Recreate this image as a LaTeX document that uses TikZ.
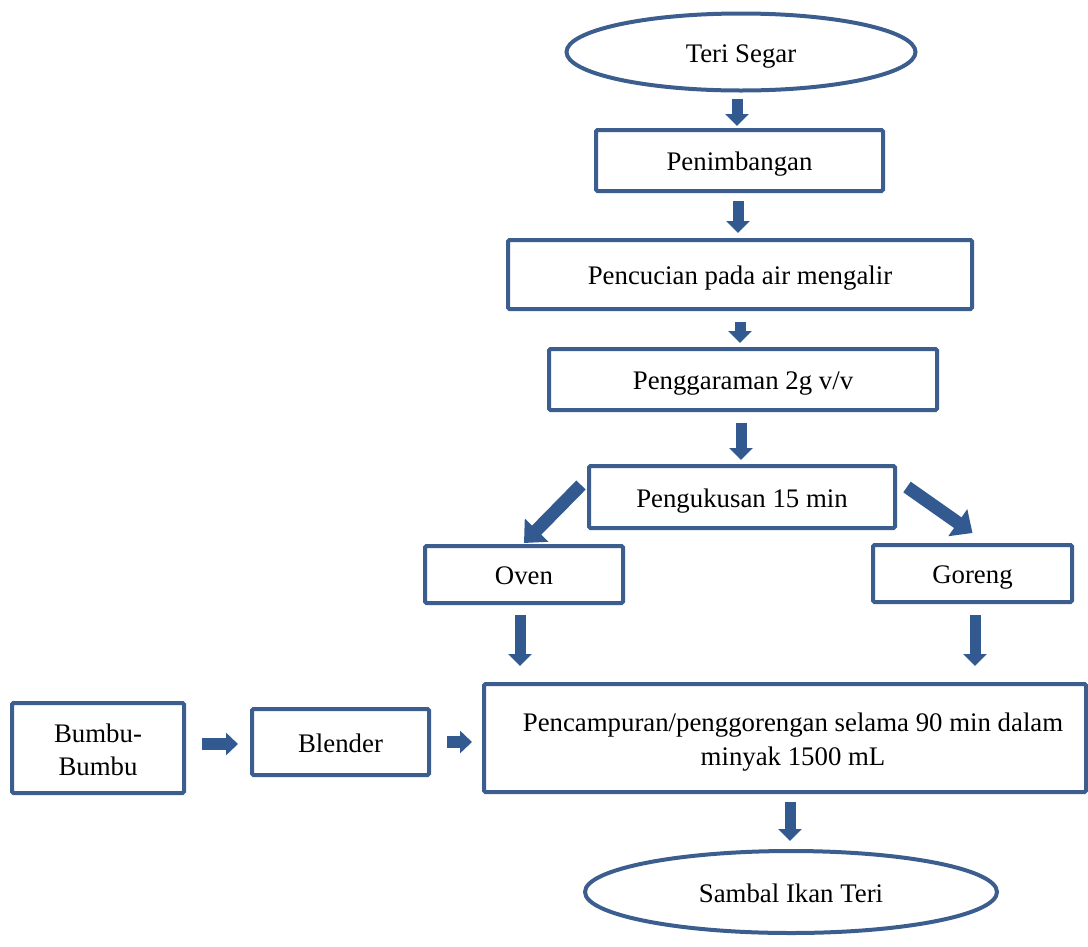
\documentclass[tikz,border=0pt]{standalone}
\usepackage{fontspec}
\setmainfont{Liberation Serif}
\usetikzlibrary{arrows.meta,calc,shapes.geometric}
\definecolor{boxblue}{HTML}{3C5E8F}
\definecolor{arrblue}{HTML}{335A90}
\tikzset{
  stepbox/.style={draw=boxblue, line width=4pt, rounded corners=1.5pt, fill=white, inner sep=0pt, align=center, font=\fontsize{26.8}{33}\selectfont, text height=20pt, text depth=0pt},
  twotext/.style={align=center, inner sep=0pt, font=\fontsize{26.8}{33.5}\selectfont},
  endoval/.style={ellipse, draw=boxblue, line width=4pt, fill=white, inner sep=0pt, font=\fontsize{26.8}{33}\selectfont, text height=20pt, text depth=0pt},
  downarr/.style={draw=arrblue, line width=11pt, -{Triangle[width=23pt,length=12pt]}},
  sidearr/.style={draw=arrblue, line width=12pt, -{Triangle[width=22pt,length=12pt]}},
  diagarr/.style={draw=arrblue, line width=13pt, -{Triangle[width=32pt,length=18pt]}},
}
\begin{document}
\begin{tikzpicture}[x=1pt,y=-1pt]
\useasboundingbox (0,0) rectangle (1088,946);
\node[endoval, minimum width=349pt, minimum height=77pt] (teri) at (741,52) {Teri Segar};
\node[stepbox, minimum width=287pt, minimum height=61pt] (tim) at (739.5,160.5) {Penimbangan};
\node[stepbox, minimum width=464pt, minimum height=69pt] (cuci) at (740,274.5) {Pencucian pada air mengalir};
\node[stepbox, minimum width=388pt, minimum height=61pt] (garam) at (743,379.5) {Penggaraman 2g v/v};
\node[stepbox, minimum width=306pt, minimum height=62pt] (kukus) at (742,497) {Pengukusan 15 min};
\node[stepbox, minimum width=198pt, minimum height=57pt] (oven) at (524,574.5) {Oven};
\node[stepbox, minimum width=199pt, minimum height=57pt] (goreng) at (972.5,573.5) {Goreng};
\node[stepbox, minimum width=602pt, minimum height=108pt] (campur) at (785,738) {};
\node[twotext] (campurtext) at ($(campur.center)+(8,4)$) {Pencampuran/penggorengan selama 90 min dalam\\minyak 1500 mL};
\node[stepbox, minimum width=172pt, minimum height=90pt] (bumbu) at (98,748) {};
\node[twotext] (bumbutext) at ($(bumbu.center)+(0,2)$) {Bumbu-\\Bumbu};
\node[stepbox, minimum width=177pt, minimum height=66pt] (blender) at (340.5,742) {Blender};
\node[endoval, minimum width=412pt, minimum height=82pt] (sambal) at (791,892) {Sambal Ikan Teri};

\draw[downarr] ($(teri.south)+(-4,6)$) -- ($(tim.north)+(-2.5,-2)$);
\draw[downarr] ($(tim.south)+(-1.5,8)$) -- ($(cuci.north)+(-2,-5)$);
\draw[downarr] ($(cuci.south)+(0,11)$) -- ($(garam.north)+(-3,-4)$);
\draw[downarr] ($(garam.south)+(-2,11)$) -- ($(kukus.north)+(-1,-4)$);
\draw[diagarr] ($(kukus.west)+(-6,-12)$) -- ($(oven.north)+(0,-1)$);
\draw[diagarr] ($(kukus.east)+(10,-10)$) -- ($(goreng.north)+(0,-10)$);
\draw[downarr] ($(oven.south)+(-4,10)$) -- ($(oven.south |- campur.north)+(-4,-16)$);
\draw[downarr] ($(goreng.south)+(2.5,11)$) -- ($(goreng.south |- campur.north)+(2.5,-16)$);
\draw[sidearr] ($(bumbu.east)+(16,-4)$) -- ($(blender.west)+(-12,2)$);
\draw[sidearr] ($(blender.east)+(16,0)$) -- ($(blender.east -| campur.west)+(-10,0)$);
\draw[downarr] ($(campur.south)+(5,8)$) -- ($(sambal.north)+(-1,-8)$);
\end{tikzpicture}
\end{document}
